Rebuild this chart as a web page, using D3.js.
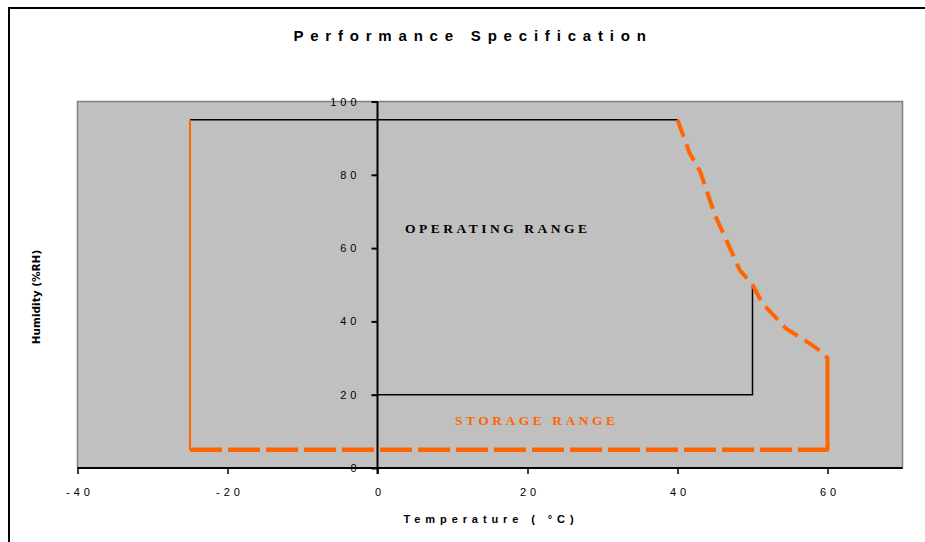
<!DOCTYPE html>
<html><head><meta charset="utf-8">
<script src="https://cdn.jsdelivr.net/npm/d3@7"></script>
<style>
html,body{margin:0;padding:0;background:#fff;overflow:hidden;}
text{font-family:"Liberation Sans",Arial,sans-serif;}
</style></head>
<body>
<svg id="c" width="925" height="542"></svg>
<script>
const xTicks = [-40, -20, 0, 20, 40, 60];
const yTicks = [0, 20, 40, 60, 80, 100];
const operatingTop = [[-25, 95], [40, 95]];
const operatingBottom = [[0, 20], [50, 20], [50, 50]];
const storageLeft = [[-25, 95], [-25, 5]];
const storageBottom = [[-25, 5], [60, 5]];
const storageRight = [[60, 5], [60, 30]];
const storageCurve = [[40, 95], [41.6, 86], [43, 81], [45, 69], [47, 60], [48.3, 54], [50, 50], [51.3, 45], [54.5, 38], [57.6, 34], [59, 32], [60, 30]];

const svg = d3.select("#c");
const x = d3.scaleLinear().domain([-40, 70]).range([77.5, 902.5]);
const y = d3.scaleLinear().domain([0, 100]).range([468, 101.5]);

// outer chart border
svg.append("rect").attr("x", 9).attr("y", 8).attr("width", 1000).attr("height", 1000)
  .attr("fill", "none").attr("stroke", "#000").attr("stroke-width", 2);

// plot area
svg.append("rect").attr("x", x(-40)).attr("y", y(100)).attr("width", x(70) - x(-40)).attr("height", y(0) - y(100))
  .attr("fill", "#c0c0c0").attr("stroke", "#808080").attr("stroke-width", 1.5);

const line = d3.line().x(d => x(d[0])).y(d => y(d[1]));

// operating range (black)
[operatingTop, operatingBottom].forEach(p => svg.append("path").attr("d", line(p))
  .attr("fill", "none").attr("stroke", "#000").attr("stroke-width", 1.5));

// storage range (orange)
const orange = "#ff6600";
svg.append("path").attr("d", line(storageLeft)).attr("fill", "none").attr("stroke", orange).attr("stroke-width", 2);
svg.append("path").attr("d", line(storageRight)).attr("fill", "none").attr("stroke", orange).attr("stroke-width", 4).attr("stroke-linecap", "round");
svg.append("path").attr("d", line(storageBottom)).attr("fill", "none").attr("stroke", orange).attr("stroke-width", 4.5).attr("stroke-dasharray", "32,6");
svg.append("path").attr("d", line(storageCurve)).attr("fill", "none").attr("stroke", orange).attr("stroke-width", 4).attr("stroke-dasharray", "18,8");

// axes
const xAxis = d3.axisBottom(x).tickValues(xTicks).tickSize(6).tickSizeOuter(0).tickFormat(d => String(d));
const gx = svg.append("g").attr("transform", `translate(0,${y(0)})`).call(xAxis);
gx.select(".domain").attr("stroke", "#000").attr("stroke-width", 2).attr("d", `M${x(-40)},0H${x(70)}`);
gx.selectAll(".tick line").attr("stroke", "#000").attr("stroke-width", 1.5);
gx.selectAll(".tick text").attr("y", 20).attr("font-size", 11).attr("fill", "#000")
  .style("letter-spacing", "4px").attr("dx", 2);

const yAxis = d3.axisLeft(y).tickValues(yTicks).tickSize(6).tickSizeOuter(0).tickFormat(d => String(d));
const gy = svg.append("g").attr("transform", `translate(${x(0)},0)`).call(yAxis);
gy.select(".domain").attr("stroke", "#000").attr("stroke-width", 2).attr("d", `M0,${y(100)}V${y(0) + 6}`);
gy.selectAll(".tick line").attr("stroke", "#000").attr("stroke-width", 2);
gy.selectAll(".tick text").attr("x", -17).attr("font-size", 11).attr("fill", "#000")
  .style("letter-spacing", "4px");

// labels
svg.append("text").attr("x", 473).attr("y", 41).attr("text-anchor", "middle")
  .attr("font-size", 15).attr("font-weight", "bold").style("letter-spacing", "6.8px").text("Performance Specification");
svg.append("text").attr("x", 491).attr("y", 523).attr("text-anchor", "middle")
  .attr("font-size", 11).attr("font-weight", "bold").style("letter-spacing", "4.9px").text("Temperature ( °C)");
svg.append("text").attr("transform", "translate(40,297) rotate(-90)").attr("text-anchor", "middle")
  .style("font-family", "'DejaVu Sans',Verdana,sans-serif")
  .attr("font-size", 10.5).attr("font-weight", "bold").text("Humidity (%RH)");

svg.append("text").attr("x", 405).attr("y", 233).style("font-family", "'Liberation Serif','Times New Roman',serif")
  .attr("font-size", 13.5).attr("font-weight", "bold").style("letter-spacing", "3.5px").attr("fill", "#000").text("OPERATING RANGE");
svg.append("text").attr("x", 455).attr("y", 425).style("font-family", "'Liberation Serif','Times New Roman',serif")
  .attr("font-size", 13.5).attr("font-weight", "bold").style("letter-spacing", "3.5px").attr("fill", orange).text("STORAGE RANGE");
</script>
</body></html>
